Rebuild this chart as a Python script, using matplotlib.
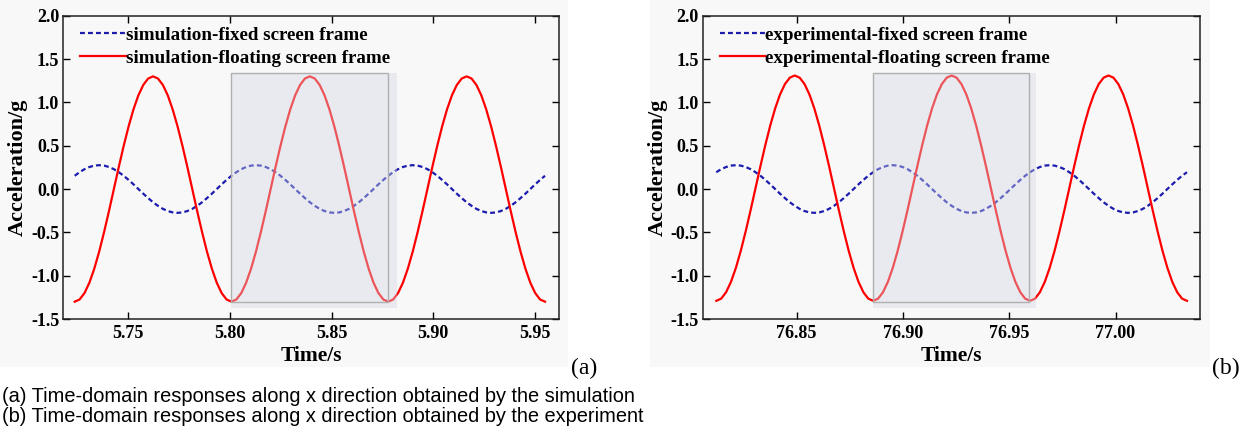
import numpy as np
import matplotlib.pyplot as plt
from matplotlib.patches import Rectangle

plt.rcParams['font.family'] = ['Liberation Serif', 'DejaVu Serif']
plt.rcParams['font.weight'] = 'bold'
plt.rcParams['axes.labelweight'] = 'bold'
plt.rcParams['axes.unicode_minus'] = False

# sample times: 1/32 of a cycle apart, trough to trough over three cycles
sim_time = np.linspace(5.7237, 5.9550, 97)
exp_time = np.linspace(76.8122, 77.0336, 97)

sim_floating = [
    -1.300, -1.275, -1.201, -1.081, -0.919, -0.722, -0.497, -0.254, 0.000, 0.254, 0.497, 0.722, 0.919, 1.081, 1.201, 1.275,
    1.300, 1.275, 1.201, 1.081, 0.919, 0.722, 0.497, 0.254, 0.000, -0.254, -0.497, -0.722, -0.919, -1.081, -1.201, -1.275,
    -1.300, -1.275, -1.201, -1.081, -0.919, -0.722, -0.497, -0.254, 0.000, 0.254, 0.497, 0.722, 0.919, 1.081, 1.201, 1.275,
    1.300, 1.275, 1.201, 1.081, 0.919, 0.722, 0.497, 0.254, 0.000, -0.254, -0.497, -0.722, -0.919, -1.081, -1.201, -1.275,
    -1.300, -1.275, -1.201, -1.081, -0.919, -0.722, -0.497, -0.254, 0.000, 0.254, 0.497, 0.722, 0.919, 1.081, 1.201, 1.275,
    1.300, 1.275, 1.201, 1.081, 0.919, 0.722, 0.497, 0.254, 0.000, -0.254, -0.497, -0.722, -0.919, -1.081, -1.201, -1.275,
    -1.300]
sim_fixed = [
    0.153, 0.194, 0.229, 0.254, 0.270, 0.275, 0.270, 0.254, 0.229, 0.194, 0.153, 0.105, 0.054, 0.000, -0.054, -0.105,
    -0.153, -0.194, -0.229, -0.254, -0.270, -0.275, -0.270, -0.254, -0.229, -0.194, -0.153, -0.105, -0.054, 0.000, 0.054, 0.105,
    0.153, 0.194, 0.229, 0.254, 0.270, 0.275, 0.270, 0.254, 0.229, 0.194, 0.153, 0.105, 0.054, 0.000, -0.054, -0.105,
    -0.153, -0.194, -0.229, -0.254, -0.270, -0.275, -0.270, -0.254, -0.229, -0.194, -0.153, -0.105, -0.054, 0.000, 0.054, 0.105,
    0.153, 0.194, 0.229, 0.254, 0.270, 0.275, 0.270, 0.254, 0.229, 0.194, 0.153, 0.105, 0.054, 0.000, -0.054, -0.105,
    -0.153, -0.194, -0.229, -0.254, -0.270, -0.275, -0.270, -0.254, -0.229, -0.194, -0.153, -0.105, -0.054, 0.000, 0.054, 0.105,
    0.153]
exp_floating = [
    -1.290, -1.265, -1.191, -1.071, -0.909, -0.712, -0.487, -0.244, 0.010, 0.264, 0.507, 0.732, 0.929, 1.091, 1.211, 1.285,
    1.310, 1.285, 1.211, 1.091, 0.929, 0.732, 0.507, 0.264, 0.010, -0.244, -0.487, -0.712, -0.909, -1.071, -1.191, -1.265,
    -1.290, -1.265, -1.191, -1.071, -0.909, -0.712, -0.487, -0.244, 0.010, 0.264, 0.507, 0.732, 0.929, 1.091, 1.211, 1.285,
    1.310, 1.285, 1.211, 1.091, 0.929, 0.732, 0.507, 0.264, 0.010, -0.244, -0.487, -0.712, -0.909, -1.071, -1.191, -1.265,
    -1.290, -1.265, -1.191, -1.071, -0.909, -0.712, -0.487, -0.244, 0.010, 0.264, 0.507, 0.732, 0.929, 1.091, 1.211, 1.285,
    1.310, 1.285, 1.211, 1.091, 0.929, 0.732, 0.507, 0.264, 0.010, -0.244, -0.487, -0.712, -0.909, -1.071, -1.191, -1.265,
    -1.290]
exp_fixed = [
    0.194, 0.229, 0.254, 0.270, 0.275, 0.270, 0.254, 0.229, 0.194, 0.153, 0.105, 0.054, 0.000, -0.054, -0.105, -0.153,
    -0.194, -0.229, -0.254, -0.270, -0.275, -0.270, -0.254, -0.229, -0.194, -0.153, -0.105, -0.054, 0.000, 0.054, 0.105, 0.153,
    0.194, 0.229, 0.254, 0.270, 0.275, 0.270, 0.254, 0.229, 0.194, 0.153, 0.105, 0.054, 0.000, -0.054, -0.105, -0.153,
    -0.194, -0.229, -0.254, -0.270, -0.275, -0.270, -0.254, -0.229, -0.194, -0.153, -0.105, -0.054, 0.000, 0.054, 0.105, 0.153,
    0.194, 0.229, 0.254, 0.270, 0.275, 0.270, 0.254, 0.229, 0.194, 0.153, 0.105, 0.054, 0.000, -0.054, -0.105, -0.153,
    -0.194, -0.229, -0.254, -0.270, -0.275, -0.270, -0.254, -0.229, -0.194, -0.153, -0.105, -0.054, 0.000, 0.054, 0.105, 0.153,
    0.194]

sim_labels = ['simulation-fixed screen frame', 'simulation-floating screen frame']
exp_labels = ['experimental-fixed screen frame', 'experimental-floating screen frame']
sim_xticks = [5.75, 5.80, 5.85, 5.90, 5.95]
exp_xticks = [76.85, 76.90, 76.95, 77.00]
yticks = [-1.5, -1.0, -0.5, 0.0, 0.5, 1.0, 1.5, 2.0]

# highlighted cycle: trough to trough, plus the right edge of its shadow
sim_window = (5.8008, 5.8779, 5.8821)
exp_window = (76.8860, 76.9594, 76.9626)
window_top, window_bottom, shadow_bottom = 1.34, -1.30, -1.37

captions = ['(a) Time-domain responses along x direction obtained by the simulation',
            '(b) Time-domain responses along x direction obtained by the experiment']


def draw_panel(ax, t, fixed, floating, labels, xlim, xticks, window):
    ax.set_facecolor('none')
    ax.plot(t, fixed, color='#1c1cae', lw=1.6, ls=(0, (2.2, 1.4)), label=labels[0])
    ax.plot(t, floating, color='#ff0000', lw=1.6, label=labels[1])
    t0, t1, t_shadow = window
    ax.add_patch(Rectangle((t0, shadow_bottom), t_shadow - t0, window_top - shadow_bottom,
                           facecolor='#d0d6e3', alpha=0.4, edgecolor='none', zorder=3))
    ax.add_patch(Rectangle((t0, window_bottom), t1 - t0, window_top - window_bottom,
                           facecolor='none', edgecolor='#b0b0b0', lw=1.0, zorder=4))
    ax.set_xlim(*xlim)
    ax.set_ylim(-1.5, 2.0)
    ax.set_xticks(xticks)
    ax.set_xticklabels(['%.2f' % v for v in xticks])
    ax.set_yticks(yticks)
    ax.set_yticklabels(['%.1f' % v for v in yticks])
    ax.tick_params(direction='in', length=5, width=1.0, labelsize=13,
                   top=True, right=True, labeltop=False, labelright=False)
    ax.tick_params(axis='x', pad=4)
    ax.tick_params(axis='y', pad=3)
    for s in ax.spines.values():
        s.set_linewidth(1.1)
        s.set_color('#222222')
    ax.set_xlabel('Time/s', fontsize=15.5, labelpad=3)
    ax.set_ylabel('Acceleration/g', fontsize=16, labelpad=2)
    ax.legend(loc='upper left', bbox_to_anchor=(0.034, 0.965), frameon=False,
              handlelength=2.4, handletextpad=0.0, borderaxespad=0, borderpad=0,
              labelspacing=0.32, prop={'weight': 'bold', 'size': 13.7})


fig = plt.figure(figsize=(12.51, 4.29), dpi=100)
# light panel backgrounds, kept behind the axes
for x0, w in [(0, 0.454), (0.5196, 0.448)]:
    fig.patches.append(Rectangle((x0, 0.1445), w, 0.8555, transform=fig.transFigure,
                                 facecolor='#f8f8f8', edgecolor='none', zorder=-1))

ax1 = fig.add_axes([0.0506, 0.2564, 0.3966, 0.707])
ax2 = fig.add_axes([0.5617, 0.2564, 0.3975, 0.707])
draw_panel(ax1, sim_time, sim_fixed, sim_floating, sim_labels, (5.7181, 5.9621), sim_xticks, sim_window)
draw_panel(ax2, exp_time, exp_fixed, exp_floating, exp_labels, (76.8058, 77.0397), exp_xticks, exp_window)

fig.text(584 / 1251, 1 - 368 / 429, '(a)', ha='center', va='center', fontsize=17, fontweight='normal')
fig.text(1226 / 1251, 1 - 368 / 429, '(b)', ha='center', va='center', fontsize=17, fontweight='normal')
for i, line in enumerate(captions):
    fig.text(2 / 1251, 1 - (396 + 20 * i) / 429, line, ha='left', va='center', fontsize=14.4,
             family=['Liberation Sans', 'DejaVu Sans'], fontweight='normal')

fig.savefig('out.png', dpi=100)
